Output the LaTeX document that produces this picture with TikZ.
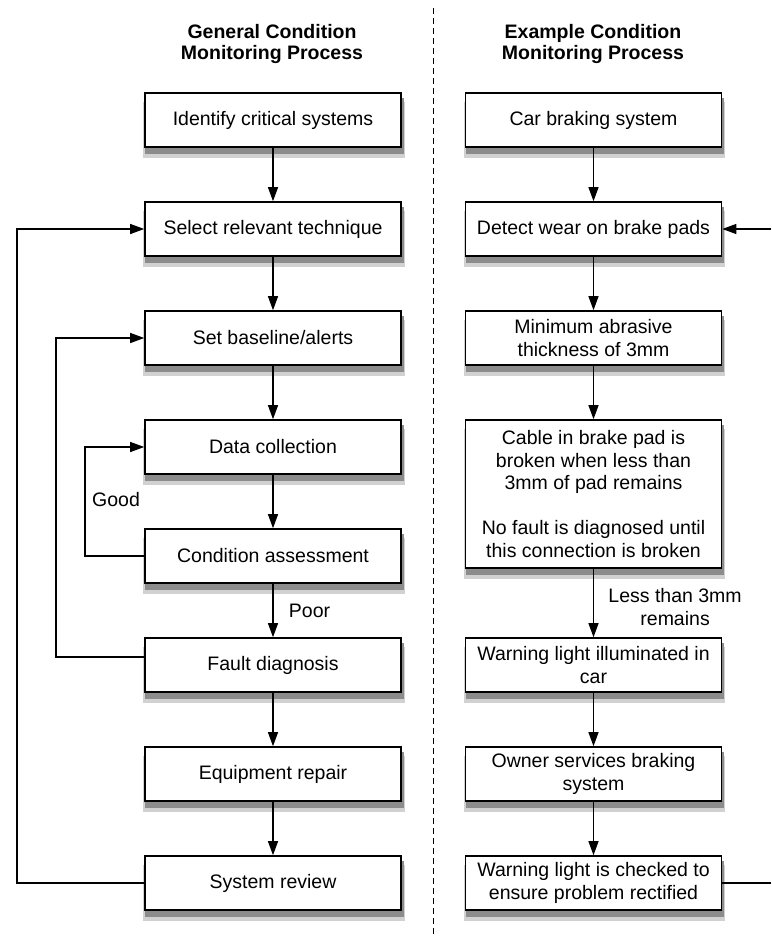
\documentclass[tikz,border=0pt]{standalone}
\usepackage{fontspec}
\setmainfont{Liberation Sans}
\usetikzlibrary{arrows.meta,backgrounds,calc}
\tikzset{
  procbox/.style={draw=black,line width=1.6pt,fill=white,minimum width=256,minimum height=54,
    align=center,inner sep=0pt,font=\fontsize{19.5}{22.5}\selectfont},
  boxshade/.style={fill=black!18},
  boxshadedark/.style={fill=black!45},
  flowarr/.style={line width=1.2pt,-{Triangle[length=14pt,width=10pt]}},
  flowline/.style={line width=1.2pt},
  lbl/.style={font=\fontsize{19.5}{22.5}\selectfont,align=center},
  coltitle/.style={font=\fontsize{19.5}{21}\selectfont\bfseries,align=center}
}
\begin{document}
\begin{tikzpicture}[x=1pt,y=1pt]
  \useasboundingbox (0,0) rectangle (771,-936);
  % divider
  \draw[line width=1pt,dash pattern=on 6pt off 4pt] (433,-8) -- (433,-936);
  % titles
  \node[coltitle] (gentitle) at (272,-44) {General Condition\\Monitoring Process};
  \node[coltitle] (extitle) at (593,-44) {Example Condition\\Monitoring Process};
  % general process
  \node[procbox] (ident) at (273,-120) {Identify critical systems};
  \node[procbox] (select) at (273,-229) {Select relevant technique};
  \node[procbox] (base) at (273,-338) {Set baseline/alerts};
  \node[procbox] (data) at (273,-447) {Data collection};
  \node[procbox] (cond) at (273,-556) {Condition assessment};
  \node[procbox] (fault) at (273,-665) {Fault diagnosis};
  \node[procbox] (repair) at (273,-774) {Equipment repair};
  \node[procbox] (review) at (273,-883) {System review};
  % example process
  \node[procbox] (car) at (593.5,-120) {Car braking system};
  \node[procbox] (wear) at (593.5,-229) {Detect wear on brake pads};
  \node[procbox] (thick) at (593.5,-338) {Minimum abrasive\\thickness of 3mm};
  \node[procbox,minimum height=148] (cable) at (593.5,-494)
    {Cable in brake pad is\\broken when less than\\3mm of pad remains\\[22.5pt]No fault is diagnosed until\\this connection is broken};
  \node[procbox] (warn) at (593.5,-665) {Warning light illuminated in\\car};
  \node[procbox] (owner) at (593.5,-774) {Owner services braking\\system};
  \node[procbox] (check) at (593.5,-883) {Warning light is checked to\\ensure problem rectified};
  % shadows under the boxes
  \begin{scope}[on background layer]
    \foreach \bx in {ident,select,base,data,cond,fault,repair,review,car,wear,thick,cable,warn,owner,check} {
      \path[boxshade] ($(\bx.south west)+(-1,-10)$) rectangle ($(\bx.north east)+(3,-10)$);
      \path[boxshadedark] ($(\bx.south west)+(1,-6)$) rectangle ($(\bx.north east)+(2,-6)$);
    }
  \end{scope}
  % loop corners and page edge
  \coordinate (loopA) at (17,-229);
  \coordinate (loopB) at (56,-338);
  \coordinate (loopC) at (85,-447);
  \coordinate (edgeA) at (771,-229);
  \coordinate (edgeB) at (771,-883);
  % general connectors
  \draw[flowarr] (ident) -- (select);
  \draw[flowarr] (select) -- (base);
  \draw[flowarr] (base) -- (data);
  \draw[flowarr] (data) -- (cond);
  \draw[flowarr] (cond) -- node[lbl,right=12pt] (poor) {Poor} (fault);
  \draw[flowarr] (fault) -- (repair);
  \draw[flowarr] (repair) -- (review);
  \draw[flowarr] (cond.west) -| (loopC) -- (data.west);
  \draw[flowarr] ([yshift=8pt]fault.west) -| (loopB) -- (base.west);
  \draw[flowarr] (review.west) -| (loopA) -- (select.west);
  \node[lbl] (good) at (116,-500) {Good};
  % example connectors
  \draw[flowarr] (car) -- (wear);
  \draw[flowarr] (wear) -- (thick);
  \draw[flowarr] (thick) -- (cable);
  \draw[flowarr] (cable) -- node[lbl,right=11pt,yshift=-4pt] (less) {Less than 3mm\\remains} (warn);
  \draw[flowarr] (warn) -- (owner);
  \draw[flowarr] (owner) -- (check);
  \draw[flowarr] (edgeA) -- (wear.east);
  \draw[flowline] (check.east) -- (edgeB);
\end{tikzpicture}
\end{document}
